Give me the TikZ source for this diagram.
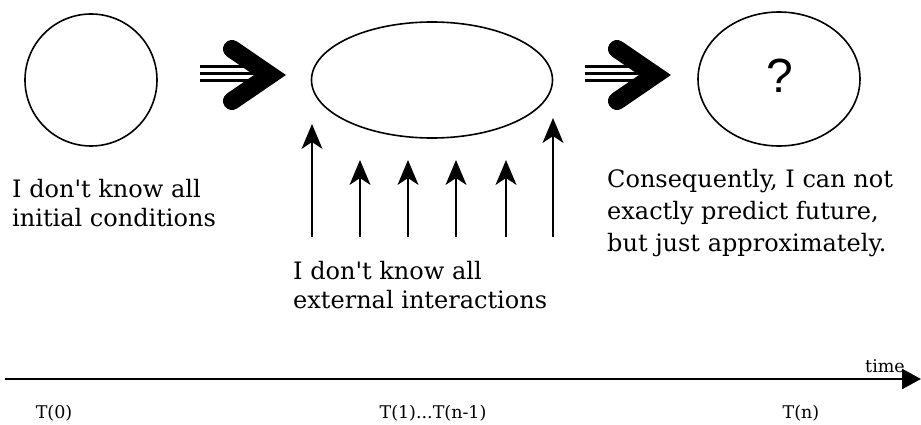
\documentclass[tikz,border=0pt]{standalone}
\usepackage{fontspec}
\setmainfont{DejaVu Serif}
\newfontfamily\qfont{Liberation Sans}
\usetikzlibrary{arrows.meta,shapes.geometric}
\tikzset{
  txt/.style={font=\fontsize{24}{30}\selectfont, inner sep=0pt, anchor=base west},
  small/.style={font=\fontsize{17.5}{20}\selectfont, inner sep=0pt, anchor=base},
  shapeline/.style={draw, line width=1.6pt},
  chev/.style={line width=18pt, line join=miter, line cap=round},
  bars/.style={line width=3pt},
  uparrow/.style={line width=1.8pt, -{Stealth[length=25pt,width=21pt,inset=7pt]}},
}
\begin{document}
\begin{tikzpicture}[x=1pt,y=-1pt]
\useasboundingbox (0,0) rectangle (921,425);
% shapes
\node[shapeline, circle, minimum size=132pt, inner sep=0pt] (c1) at (91,80) {};
\node[shapeline, ellipse, minimum width=241pt, minimum height=116pt, inner sep=0pt] (e2) at (432,80) {};
\node[shapeline, ellipse, minimum width=162pt, minimum height=134pt, inner sep=0pt] (e3) at (779,79) {};
\node[font=\qfont\fontsize{48}{48}\selectfont, inner sep=0pt] (q) at (780,76) {?};
% big arrows
\foreach \dx/\nm in {0/a, 385/b} {
  \begin{scope}[xshift=\dx pt]
    \coordinate (\nm1) at (232,49);
    \coordinate (\nm2) at (270,75);
    \coordinate (\nm3) at (232,101);
    \draw[chev] (\nm1) -- (\nm2) -- (\nm3);
    \foreach \yy in {67,74,81} \draw[bars] (200,\yy) -- (262,\yy);
  \end{scope}
}
% vertical arrows
\foreach \i/\xx/\top in {1/312/124, 2/360/160, 3/408/160, 4/456/160, 5/506/160, 6/553/118} {
  \coordinate (s\i) at (\xx,237);
  \coordinate (t\i) at (\xx,\top);
  \draw[uparrow] (s\i) -- (t\i);
}
% texts
\node[txt] (l1) at (12,197) {I don\textquotesingle t know all};
\node[txt] (l2) at (12,226) {initial conditions};
\node[txt] (m1) at (293,279) {I don\textquotesingle t know all};
\node[txt] (m2) at (293,308) {external interactions};
\node[txt] (r1) at (607,187) {Consequently, I can not};
\node[txt] (r2) at (607,219) {exactly predict future,};
\node[txt] (r3) at (607,251) {but just approximately.};
% time axis
\coordinate (ax0) at (5,379);
\coordinate (ax1) at (921,379);
\draw[line width=2.4pt, -{Triangle[length=19pt,width=20pt]}] (ax0) -- (ax1);
\node[small, anchor=base east] (tm) at (905,372) {time};
\node[small] (t0) at (54,418) {T(0)};
\node[small] (t1) at (433,418) {T(1)...T(n-1)};
\node[small] (tn) at (801,418) {T(n)};
\end{tikzpicture}
\end{document}
